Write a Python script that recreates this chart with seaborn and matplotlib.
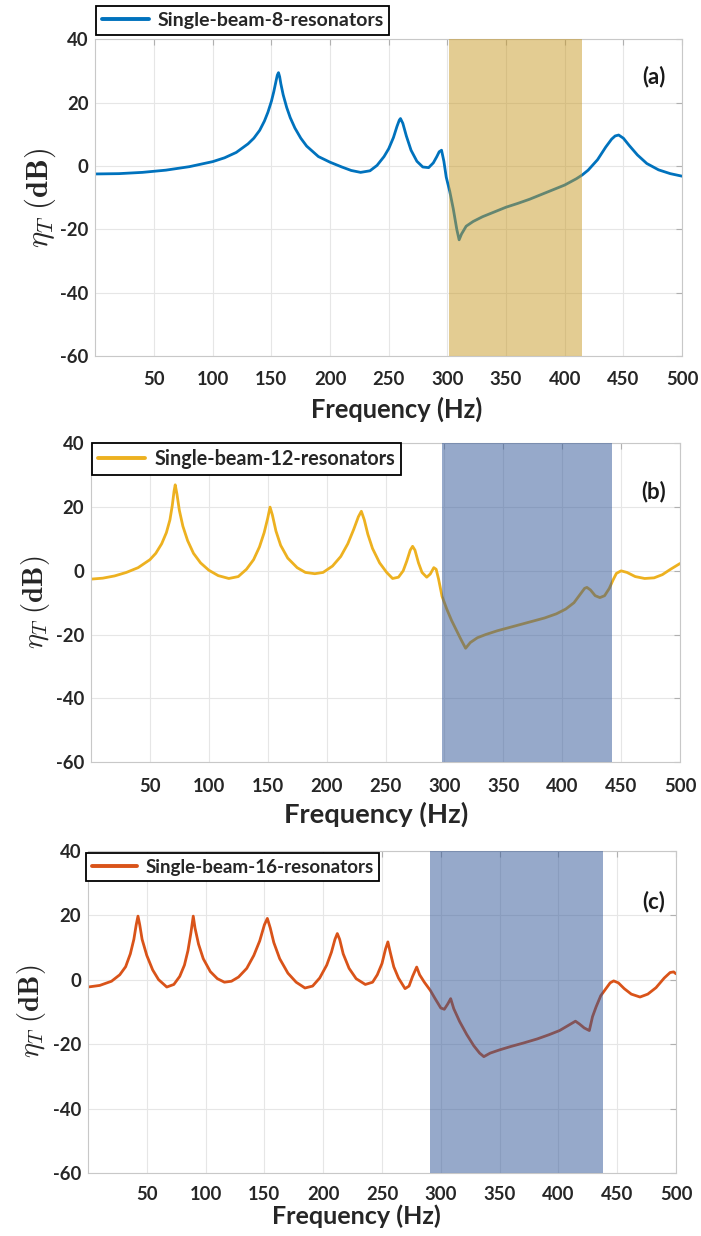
import numpy as np
import pandas as pd
import matplotlib
matplotlib.use("Agg")
import matplotlib.pyplot as plt
import seaborn as sns

# ---------------- data ----------------
freq_a = [0, 20, 40, 60, 80, 100, 110, 120, 130, 135, 140, 144, 147, 150, 152, 154, 155, 156, 157, 158,
          160, 163, 166, 170, 175, 180, 190, 200, 210, 218, 226, 234, 240, 246, 250, 254, 257, 259, 260,
          262, 265, 269, 274, 279, 284, 288, 291, 293, 295, 297, 299, 302, 305, 308, 310, 312, 316, 322,
          330, 340, 350, 360, 370, 380, 390, 400, 410, 415, 420, 428, 435, 440, 443, 446, 450, 455, 462,
          470, 480, 490, 500]
eta_a = [-2.5, -2.4, -2.0, -1.3, -0.2, 1.4, 2.6, 4.3, 7.0, 8.8, 11.3, 14.2, 17.0, 20.5, 23.5, 27, 28.7,
         29.5, 28.2, 26, 22.5, 18.5, 15.3, 12, 8.8, 6.3, 3, 1.2, -0.3, -1.4, -2.0, -1.5, 0.2, 3.0, 5.5,
         9, 12.5, 14.5, 15, 13.5, 9.5, 5, 1.5, -0.3, -0.5, 1, 3, 4.5, 5, 1.5, -3.5, -8, -13.5, -20, -23.3,
         -21.5, -19, -17.5, -16, -14.5, -13, -11.8, -10.5, -9, -7.5, -6, -4, -2.8, -1.3, 2, 6, 8.5, 9.5,
         9.8, 8.8, 6.5, 3.5, 0.8, -1.2, -2.4, -3.2]

freq_b = [0, 10, 20, 30, 40, 50, 55, 60, 64, 67, 69, 70.5, 71.5, 73, 75, 78, 82, 87, 93, 100, 108, 117,
          125, 132, 138, 143, 147, 150, 152, 154, 157, 161, 167, 175, 182, 190, 197, 205, 212, 218, 223,
          227, 229.5, 232, 235, 239, 245, 251, 256, 261, 265, 268, 271, 273, 275, 278, 281, 285, 288, 291,
          293, 295, 298, 302, 306, 310, 314, 318, 322, 328, 335, 345, 355, 365, 375, 385, 395, 403, 410,
          415, 419, 421, 424, 428, 432, 436, 440, 443, 446, 450, 455, 462, 470, 478, 485, 492, 500]
eta_b = [-2.6, -2.3, -1.6, -0.5, 1.0, 3.5, 5.5, 8.5, 12, 16, 20.5, 25, 27, 24, 19, 14, 9.5, 5.5, 2.5,
         0.2, -1.5, -2.4, -1.8, 0.5, 3.5, 7.5, 12, 16.5, 20, 17.5, 12.5, 8, 4, 1, -0.5, -0.9, -0.5, 1.5,
         4.5, 8.5, 13, 17, 18.7, 16, 11.5, 7, 2.5, -0.5, -2.4, -2.0, 0, 3, 6.5, 7.7, 6.5, 2.5, -0.5, -2,
         -1, 1, 0.5, -2.5, -8, -12, -15.5, -18.5, -21.5, -24.3, -22.5, -21, -20, -18.8, -17.8, -16.8,
         -15.8, -14.8, -13.5, -12, -10, -7.5, -5.5, -5.2, -6, -7.8, -8.4, -7.8, -5.5, -3, -0.8, 0, -0.5,
         -1.8, -2.4, -2.2, -1.2, 0.5, 2.3]

freq_c = [0, 10, 20, 27, 32, 36, 39, 41, 42.5, 44, 46, 50, 55, 60, 67, 73, 78, 82, 85, 87.5, 89.5, 91,
          94, 98, 104, 110, 116, 122, 128, 135, 141, 146, 150, 152.5, 155, 158, 163, 170, 177, 184.5, 191,
          197, 203, 207, 210, 212, 214, 217, 222, 228, 235.8, 242, 246, 250, 253, 255, 257, 260, 264,
          269.6, 273, 276, 279.5, 282, 286, 291, 295, 300, 303, 306, 308.4, 311, 316, 322, 328, 333,
          336.6, 342, 350, 360, 370, 382, 392, 401, 408, 414.5, 418, 422, 426.3, 429, 432, 436, 440, 444,
          447, 451, 456, 462, 469.4, 476, 483, 490, 495, 498, 500]
eta_c = [-2.3, -1.8, -0.5, 1.5, 4, 8, 12.5, 17, 19.7, 17, 12.5, 7.5, 3, 0, -2.3, -1.5, 1, 4.5, 9, 14.5,
         19.7, 16, 11, 6.5, 2.5, 0.3, -0.8, -0.5, 0.8, 3.5, 7.5, 12, 17, 19, 16, 11.5, 6.5, 2, -0.8, -2.6,
         -2, 0.5, 4.5, 8.5, 12.5, 14.3, 12.5, 8, 3.5, 0.3, -1.5, -0.8, 1.5, 5, 9.5, 11.7, 8.5, 4, 0.5,
         -2.8, -2, 1, 3.9, 1.5, -0.8, -3.3, -5.8, -8.8, -9.2, -7.5, -5.9, -9, -13, -17, -20.5, -22.8,
         -23.9, -22.8, -21.8, -20.7, -19.7, -18.4, -17.1, -15.8, -14.3, -12.9, -13.8, -15, -15.8, -11.5,
         -8.5, -5, -3, -1, -0.4, -1, -2.8, -4.5, -5.4, -4.5, -2.5, 0.5, 2.2, 2.4, 1.8]

labels = ["Single-beam-8-resonators", "Single-beam-12-resonators", "Single-beam-16-resonators"]
panel_tags = ["(a)", "(b)", "(c)"]
bands = [(301, 415), (298, 442), (291, 438)]
x_ticks = [50, 100, 150, 200, 250, 300, 350, 400, 450, 500]
y_ticks = [-60, -40, -20, 0, 20, 40]

# ---------------- style ----------------
sns.set_style("white")
plt.rcParams['font.family'] = ['Lato', 'DejaVu Sans']
plt.rcParams['mathtext.fontset'] = 'cm'
plt.rcParams['axes.unicode_minus'] = False

W, H = 701, 1236
fig = plt.figure(figsize=(W / 100, H / 100), dpi=100)

line_colors = ["#0072BD", "#EDB120", "#D95319"]
band_colors = ["#c89a26", "#2f5597", "#2f5597"]

# axes rectangles in pixels: left, right, top, bottom
rects = [(95.5, 682, 39.4, 356), (91, 680, 443.4, 762), (88, 676, 850.7, 1173)]
legend_anchor = [(96, 6), (92, 443), (86, 853)]
legend_fs = [14, 14.2, 13.5]
xlabel_fs = [18.4, 19.7, 18.1]
xlabel_x = [397, 376, 356]
ylabel_fs = [22, 20.5, 20.5]
xlabel_y = [409, 814, 1216]
ylabel_x = [40, 35, 32]
tag_pos = [(654, 76.7), (654, 491.7), (654, 901.7)]
xpads = [10.5, 11.5, 9.5]

datasets = [(freq_a, eta_a), (freq_b, eta_b), (freq_c, eta_c)]

for i in range(3):
    l, r, t, b = rects[i]
    ax = fig.add_axes([l / W, 1 - b / H, (r - l) / W, (b - t) / H])
    f, e = datasets[i]
    df = pd.DataFrame({"Frequency": f, "eta": e})
    sns.lineplot(data=df, x="Frequency", y="eta", ax=ax, color=line_colors[i], linewidth=2.0,
                 label=labels[i], zorder=2)
    ax.axvspan(bands[i][0], bands[i][1], color=band_colors[i], alpha=0.5, lw=0, zorder=3)
    ax.set_xlim(0, 500)
    ax.set_ylim(-60, 40)
    ax.set_xticks(x_ticks)
    ax.set_yticks(y_ticks)
    ax.grid(True, color="#e6e6e6", linewidth=0.8, zorder=0)
    ax.set_axisbelow(True)
    for sp in ax.spines.values():
        sp.set_color("#c8c8c8")
        sp.set_linewidth(0.8)
    ax.tick_params(direction="in", length=4, color="#b0b0b0", labelsize=13.3,
                   top=True, right=True, labelcolor="#262626")
    ax.tick_params(axis="x", pad=xpads[i])
    ax.tick_params(axis="y", pad=5)
    for lab in ax.get_xticklabels() + ax.get_yticklabels():
        lab.set_fontweight("bold")
    ax.set_xlabel("Frequency (Hz)", fontsize=xlabel_fs[i], fontweight="bold", color="#262626")
    ax.xaxis.set_label_coords((xlabel_x[i] - l) / (r - l), (b - xlabel_y[i]) / (b - t))
    ax.xaxis.label.set_va("center")
    ax.set_ylabel(r"$\eta_{\mathit{T}}\ \mathbf{(dB)}$", fontsize=ylabel_fs[i], color="#262626")
    ax.yaxis.set_label_coords((ylabel_x[i] - l) / (r - l), 0.5)
    ax.yaxis.label.set_va("center")
    tx, ty = tag_pos[i]
    ax.text((tx - l) / (r - l), (b - ty) / (b - t), panel_tags[i], transform=ax.transAxes,
            ha="center", va="center", fontsize=16, fontweight="bold", color="#1a1a1a", zorder=5)
    lx, ly = legend_anchor[i]
    leg = ax.legend(loc="upper left", bbox_to_anchor=(lx / W, 1 - ly / H), bbox_transform=fig.transFigure,
                    borderaxespad=0, fancybox=False, framealpha=1, edgecolor="black",
                    prop={"weight": "bold", "size": legend_fs[i]}, handlelength=2.4, handletextpad=0.45,
                    borderpad=0.3)
    leg.get_frame().set_linewidth(1.3)
    leg.set_zorder(6)
    for lh in leg.get_lines():
        lh.set_linewidth(2.8)

fig.savefig("out.png", dpi=100)
